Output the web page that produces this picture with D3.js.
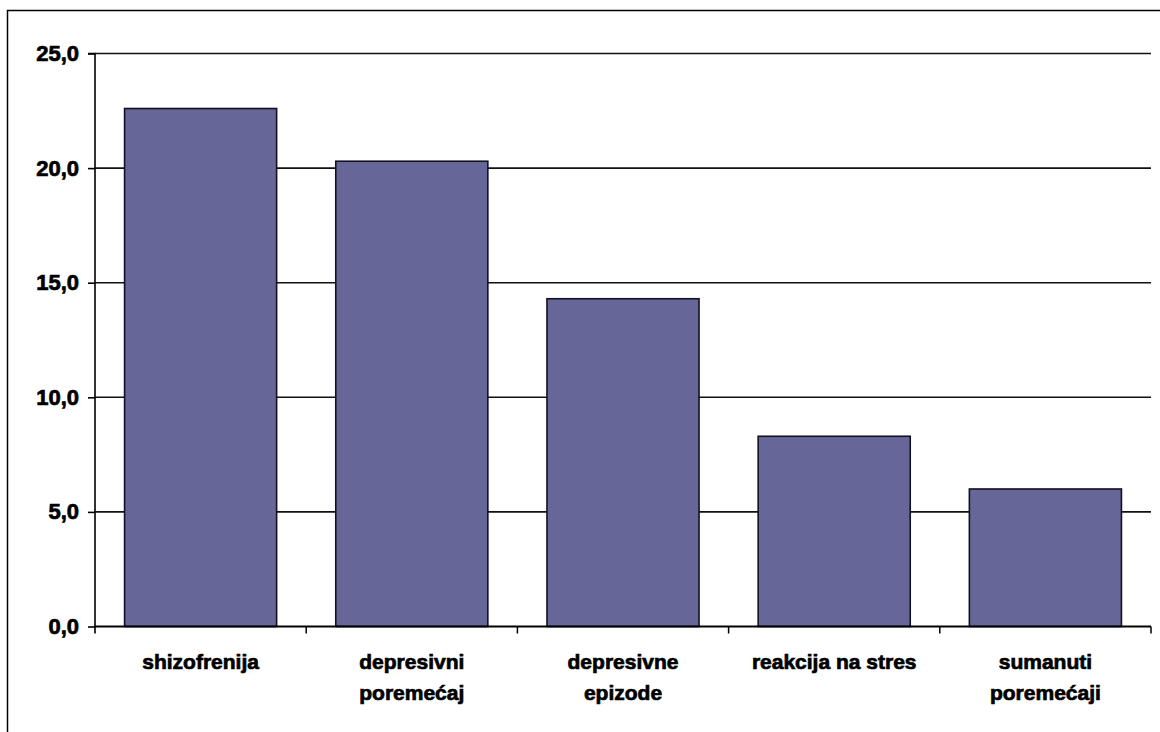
<!DOCTYPE html>
<html>
<head>
<meta charset="utf-8">
<script src="https://cdn.jsdelivr.net/npm/d3@7"></script>
<style>
  html, body { margin: 0; padding: 0; background: #fff; }
  svg { display: block; }
  text { font-family: "Liberation Sans", Arial, sans-serif; font-weight: bold; fill: #000; stroke: #000; stroke-width: 0.7px; }
</style>
</head>
<body>
<svg id="chart" width="1160" height="732"></svg>
<script>
// Category labels (each entry is one or two lines)
const categories = [
  ["shizofrenija"],
  ["depresivni", "poremećaj"],
  ["depresivne", "epizode"],
  ["reakcija na stres"],
  ["sumanuti", "poremećaji"]
];
const values = [22.6, 20.3, 14.3, 8.3, 6.0];
const yTicks = [0, 5, 10, 15, 20, 25];

const svg = d3.select("#chart");
const W = 1160, H = 732;
const plot = { left: 95, right: 1151, top: 53.5, bottom: 626.5 };

// outer frame
svg.append("rect")
  .attr("x", 7.5).attr("y", 10.5)
  .attr("width", W + 20).attr("height", H + 20)
  .attr("fill", "#fff").attr("stroke", "#000").attr("stroke-width", 1.5);

const keys = categories.map((c, i) => i);
const x = d3.scaleBand().domain(keys).range([plot.left, plot.right])
  .paddingInner(0.28).paddingOuter(0.14);
const y = d3.scaleLinear().domain([0, 25]).range([plot.bottom, plot.top]);

// horizontal gridlines
svg.append("g").selectAll("line")
  .data(yTicks.filter(d => d > 0))
  .join("line")
  .attr("x1", plot.left).attr("x2", plot.right)
  .attr("y1", d => y(d)).attr("y2", d => y(d))
  .attr("stroke", "#111").attr("stroke-width", 1.6);

// bars
svg.append("g").selectAll("rect")
  .data(values)
  .join("rect")
  .attr("x", (d, i) => x(i))
  .attr("width", x.bandwidth())
  .attr("y", d => y(d))
  .attr("height", d => y(0) - y(d))
  .attr("fill", "#666699")
  .attr("stroke", "#111122").attr("stroke-width", 1.6);

// y axis
const yAxis = d3.axisLeft(y)
  .tickValues(yTicks)
  .tickSize(7)
  .tickPadding(9)
  .tickFormat(d => d3.format(".1f")(d).replace(".", ","));
const gy = svg.append("g")
  .attr("transform", `translate(${plot.left},0)`)
  .call(yAxis);
gy.select(".domain").attr("stroke", "#000").attr("stroke-width", 1.6)
  .attr("d", `M-7,${y(25)}H0V${y(0) + 7}`);
gy.selectAll(".tick line").attr("stroke", "#000").attr("stroke-width", 1.6);
gy.selectAll(".tick text")
  .style("font-size", "22px").style("font-family", "Liberation Sans, Arial, sans-serif")
  .style("font-weight", "bold").attr("fill", "#000");

// x axis baseline with ticks at category boundaries
const bounds = keys.map(i => x(i) - x.step() * x.paddingInner() / 2)
  .concat([plot.right]).slice(1);
const gx = svg.append("g");
gx.append("line")
  .attr("x1", plot.left).attr("x2", plot.right)
  .attr("y1", y(0)).attr("y2", y(0))
  .attr("stroke", "#000").attr("stroke-width", 1.8);
gx.selectAll("line.tk")
  .data(bounds)
  .join("line").attr("class", "tk")
  .attr("x1", d => d).attr("x2", d => d)
  .attr("y1", y(0)).attr("y2", y(0) + 7)
  .attr("stroke", "#000").attr("stroke-width", 1.5);

// category labels
const labels = svg.append("g").selectAll("text")
  .data(categories)
  .join("text")
  .attr("text-anchor", "middle")
  .attr("x", (d, i) => x(i) + x.bandwidth() / 2)
  .attr("y", 669)
  .style("font-size", "21px");
labels.selectAll("tspan")
  .data(d => d)
  .join("tspan")
  .attr("x", function () { return this.parentNode.getAttribute("x"); })
  .attr("dy", (d, i) => i === 0 ? 0 : 31)
  .text(d => d);
</script>
</body>
</html>
